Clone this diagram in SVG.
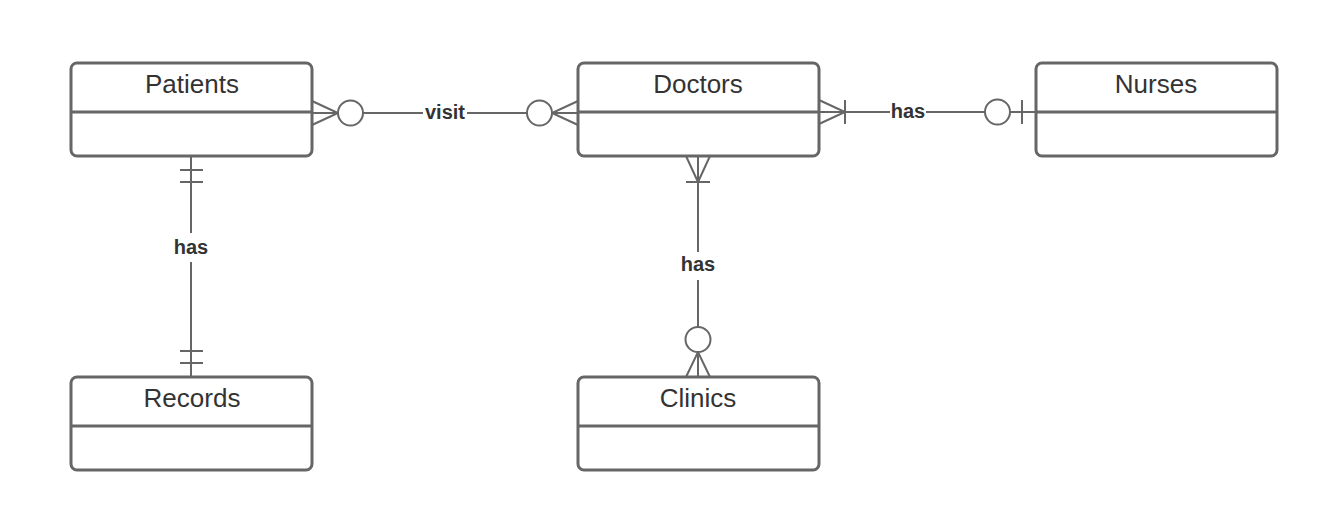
<svg xmlns="http://www.w3.org/2000/svg" width="1332" height="522" viewBox="0 0 1332 522">
<style>
.box{fill:#fff;stroke:#666;stroke-width:3}
.div{stroke:#666;stroke-width:3}
.t{font-family:"Liberation Sans",Arial,sans-serif;font-size:26px;fill:#333;text-anchor:middle}
.l{font-family:"Liberation Sans",Arial,sans-serif;font-size:20px;font-weight:bold;fill:#333;text-anchor:middle}
.c{fill:none;stroke:#666;stroke-width:2}
.o{fill:#fff;stroke:#666;stroke-width:2}
</style>
<rect width="1332" height="522" fill="#fff"/>
<g id="connectors">
<path class="c" d="M312 101 L338 113 L312 125 M312 113 H338 M363 113 H423 M467 113 H527 M552 113 H578 M578 101 L552 113 L578 125"/>
<circle class="o" cx="350.5" cy="113" r="12.5"/>
<circle class="o" cx="539.5" cy="113" r="12.5"/>
<text class="l" x="445" y="119">visit</text>
<path class="c" d="M819 100 L845 112 L819 124 M819 112 H845 M845 100 V124 M845 112 H890 M926 112 H985 M1010 112 H1036 M1022 100 V124"/>
<circle class="o" cx="997.5" cy="112" r="12.5"/>
<text class="l" x="908" y="118">has</text>
<path class="c" d="M686 156 L698 182 L710 156 M698 156 V252 M686 182 H710 M698 280 V327 M698 352 V377 M686 377 L698 352 L710 377"/>
<circle class="o" cx="698" cy="339.5" r="12.5"/>
<text class="l" x="698" y="271">has</text>
<path class="c" d="M191 156 V233 M180 170 H203 M180 182 H203 M191 262 V377 M180 351 H203 M180 363 H203"/>
<text class="l" x="191" y="254">has</text>
</g>
<g id="patients">
<rect class="box" x="71" y="63" width="241" height="93" rx="6"/>
<line class="div" x1="71" y1="112" x2="312" y2="112"/>
<text class="t" x="192" y="93">Patients</text>
</g>
<g id="doctors">
<rect class="box" x="578" y="63" width="241" height="93" rx="6"/>
<line class="div" x1="578" y1="112" x2="819" y2="112"/>
<text class="t" x="698" y="93">Doctors</text>
</g>
<g id="nurses">
<rect class="box" x="1036" y="63" width="241" height="93" rx="6"/>
<line class="div" x1="1036" y1="112" x2="1277" y2="112"/>
<text class="t" x="1156" y="93">Nurses</text>
</g>
<g id="records">
<rect class="box" x="71" y="377" width="241" height="93" rx="6"/>
<line class="div" x1="71" y1="426" x2="312" y2="426"/>
<text class="t" x="192" y="407">Records</text>
</g>
<g id="clinics">
<rect class="box" x="578" y="377" width="241" height="93" rx="6"/>
<line class="div" x1="578" y1="426" x2="819" y2="426"/>
<text class="t" x="698" y="407">Clinics</text>
</g>
</svg>
